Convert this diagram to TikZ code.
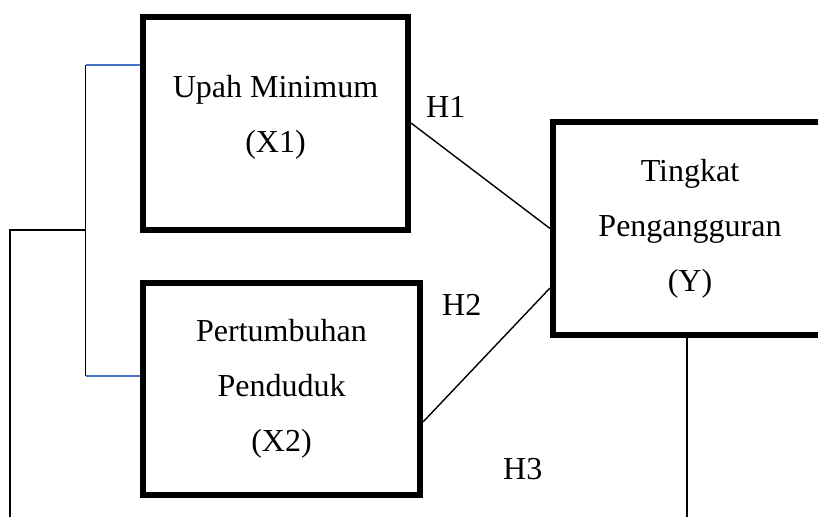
\documentclass[tikz,border=0pt]{standalone}
\usepackage{fontspec}
\setmainfont{Liberation Serif}
\definecolor{linkblue}{RGB}{68,114,196}

\begin{document}
\begin{tikzpicture}[x=1pt,y=-1pt]
\tikzstyle{every node}=[font=\fontsize{32}{55}\selectfont, inner sep=0pt]
\tikzstyle{var}=[draw, line width=6pt, align=center]
\tikzstyle{link}=[line width=1.4pt]
\useasboundingbox (0,0) rectangle (818,517);
\clip (0,0) rectangle (818,517);
% variable boxes
\draw (275.5,123) node (x1) [var, minimum width=265pt, minimum height=213pt, text depth=19pt] {Upah Minimum\\(X1)};
\draw (281.5,389) node (x2) [var, minimum width=277pt, minimum height=212pt] {Pertumbuhan\\Penduduk\\(X2)};
\draw (690,228.5) node (y) [var, minimum width=274pt, minimum height=213pt] {Tingkat\\Pengangguran\\(Y)};
% hypothesis labels
\draw (426,117) node (h1) [anchor=base west] {H1};
\draw (442,315) node (h2) [anchor=base west] {H2};
\draw (503,479) node (h3) [anchor=base west] {H3};
% free ends
\coordinate (b1) at (85.5,65);
\coordinate (b2) at (85.5,376);
\coordinate (bm) at (85.5,230);
\coordinate (l1) at (10,230);
\coordinate (l2) at (10,517);
\coordinate (r1) at (687,517);
\draw[link] (x1.east) -- (y.west);
\draw[link] ([yshift=-33pt]x2.east) -- ([yshift=-59.5pt]y.west);
\draw[link, linkblue] (b1) -- (b1 -| x1.west);
\draw[link, linkblue] (b2) -- (b2 -| x2.west);
\draw[link] (b1) -- (b2);
\draw[link] (bm) -- (l1) -- (l2);
\draw[link, line width=2.5pt] (r1 |- y.south) -- (r1);
\end{tikzpicture}
\end{document}
